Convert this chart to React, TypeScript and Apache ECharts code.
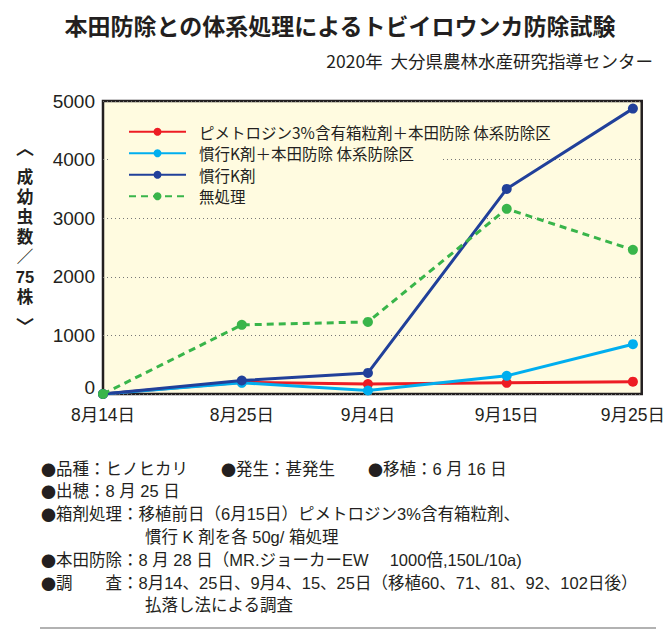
import React, { useEffect, useRef } from 'react';
import * as echarts from 'echarts';

const dateLabels = ['8月14日', '8月25日', '9月4日', '9月15日', '9月25日'];
const dayOffsets = [0, 11, 21, 32, 42];
const seriesNames = [
  'ピメトロジン3%含有箱粒剤＋本田防除 体系防除区',
  '慣行K剤＋本田防除 体系防除区',
  '慣行K剤',
  '無処理',
];
const pymetrozineSystem = [0, 200, 170, 190, 210];
const kSystem = [0, 190, 60, 310, 850];
const kOnly = [0, 230, 360, 3500, 4870];
const untreated = [0, 1180, 1230, 3160, 2460];
const seriesColors = ['#ed1c24', '#00aeef', '#21409a', '#39b54a'];

const titleText = '本田防除との体系処理によるトビイロウンカ防除試験';
const subtitleText = '2020年  大分県農林水産研究指導センター';
const yNameChars = ['成', '幼', '虫', '数', '／', '75', '株'];
const notes = [
  { x: 41, text: '{d|●}品種：ヒノヒカリ　　{d|●}発生：甚発生　　{d|●}移植：6 月 16 日' },
  { x: 41, text: '{d|●}出穂：8 月 25 日' },
  { x: 41, text: '{d|●}箱剤処理：移植前日（6月15日）ピメトロジン3%含有箱粒剤、' },
  { x: 145, text: '慣行 K 剤を各 50g/ 箱処理' },
  { x: 41, text: '{d|●}本田防除：8 月 28 日（MR.ジョーカーEW　 1000倍,150L/10a)' },
  { x: 41, text: '{d|●}調　　査：8月14、25日、9月4、15、25日（移植60、71、81、92、102日後）' },
  { x: 145, text: '払落し法による調査' },
];
const noteY = [469, 491, 514, 537, 560, 583, 605];

const FONT = '"Noto Sans CJK JP", "Noto Sans", sans-serif';
const NUMFONT = '"Liberation Sans", "Noto Sans CJK JP", sans-serif';
const INK = '#231f20';

export default function App() {
  const ref = useRef<HTMLDivElement>(null);
  useEffect(() => {
    document.body.style.margin = '0';
    if (!ref.current) return;
    const chart = echarts.init(ref.current, undefined, { renderer: 'svg' });
    const values = [pymetrozineSystem, kSystem, kOnly, untreated];
    const series = values.map((arr, i) => ({
      name: seriesNames[i],
      type: 'line',
      data: arr.map((v, j) => [dayOffsets[j], v]),
      symbol: 'circle',
      symbolSize: 10,
      color: seriesColors[i],
      itemStyle: { color: seriesColors[i] },
      lineStyle: {
        color: seriesColors[i],
        width: 3,
        type: i === 3 ? [7, 5] : 'solid',
      },
      z: 2 + i,
    }));

    const centered = (x: number, y: number, text: string, extra: any = {}) => ({
      type: 'text',
      x,
      y,
      style: {
        text,
        fontFamily: FONT,
        fontSize: 18,
        fontWeight: 'bold',
        fill: INK,
        textAlign: 'center',
        textVerticalAlign: 'middle',
        ...extra,
      },
    });

    const graphics: any[] = [
      {
        type: 'rect',
        shape: { x: 109, y: 112, width: 333, height: 96 },
        style: { fill: '#fffbe0' },
        z: 1,
        silent: true,
      },
      centered(340, 25, titleText, { fontSize: 23 }),
      {
        type: 'text',
        x: 653,
        y: 60,
        style: {
          text: subtitleText,
          fontFamily: FONT,
          fontSize: 17.5,
          fill: INK,
          textAlign: 'right',
          textVerticalAlign: 'middle',
        },
      },
      centered(25, 147, '︿'),
      centered(25, 325, '﹀'),
      ...yNameChars.map((c, i) =>
        centered(25, 177 + i * 20, c, { fontSize: 16.5, lineHeight: 18, fontFamily: NUMFONT })
      ),
      ...notes.map((n, i) => ({
        type: 'text',
        x: n.x,
        y: noteY[i],
        style: {
          text: n.text,
          fontFamily: NUMFONT,
          fontSize: 16.5,
          fill: INK,
          textAlign: 'left',
          textVerticalAlign: 'middle',
          rich: {
            d: { fontFamily: FONT, fontSize: 15, fill: INK },
          },
        },
      })),
      {
        type: 'line',
        shape: { x1: 40, y1: 628, x2: 656, y2: 628 },
        style: { stroke: '#999', lineWidth: 1.5 },
      },
    ];

    chart.setOption({
      animation: false,
      textStyle: { fontFamily: FONT },
      grid: {
        left: 103,
        top: 101,
        right: 16,
        bottom: 236,
        show: true,
        backgroundColor: '#fffbe0',
        borderColor: INK,
        borderWidth: 2.5,
      },
      legend: {
        orient: 'vertical',
        left: 123,
        top: 118,
        itemWidth: 57,
        itemHeight: 10,
        itemGap: 4,
        data: seriesNames,
        textStyle: {
          fontFamily: FONT,
          fontSize: 15.5,
          lineHeight: 17.5,
          color: INK,
          padding: [0, 0, 0, 8],
        },
        z: 5,
      },
      xAxis: {
        type: 'value',
        min: 0,
        max: 42.7,
        axisLine: { show: false },
        axisTick: { show: false },
        splitLine: { show: false },
        axisLabel: {
          customValues: dayOffsets,
          formatter: (v: number) => {
            const idx = dayOffsets.indexOf(Math.round(v));
            return idx >= 0 ? dateLabels[idx] : '';
          },
          fontFamily: NUMFONT,
          fontSize: 17.5,
          color: INK,
          margin: 12,
        },
      },
      yAxis: {
        type: 'value',
        min: 0,
        max: 5000,
        interval: 1000,
        axisLine: { show: false },
        axisTick: { show: false },
        splitLine: {
          show: true,
          lineStyle: { color: '#777', width: 1, type: [1, 3] },
        },
        axisLabel: {
          formatter: (v: number) => (v === 0 ? '{z|0}' : String(v)),
          rich: {
            z: { fontFamily: NUMFONT, fontSize: 19, color: INK, padding: [0, 0, 14, 0] },
          },
          fontFamily: NUMFONT,
          fontSize: 19,
          color: INK,
          margin: 8,
        },
      },
      graphic: graphics,
      series,
    });
    return () => chart.dispose();
  }, []);
  return <div ref={ref} style={{ width: 668, height: 630 }} />;
}
